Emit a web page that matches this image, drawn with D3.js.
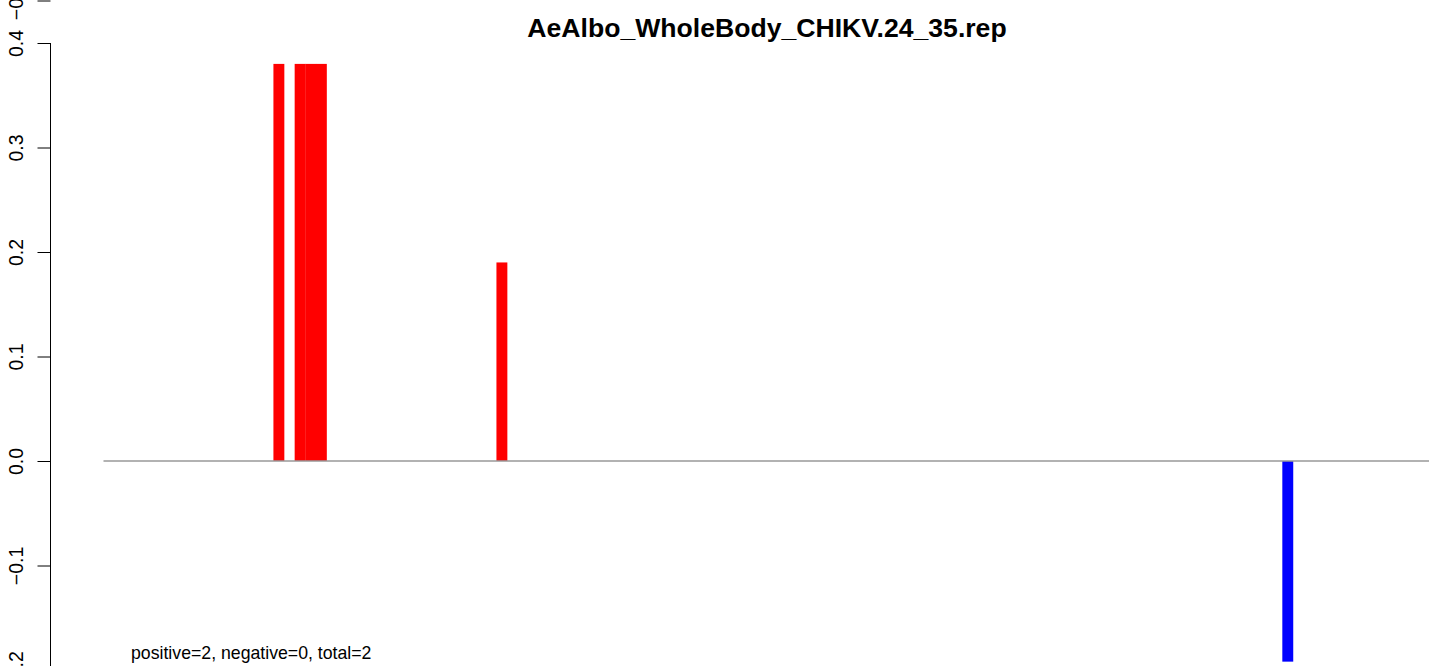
<!DOCTYPE html>
<html>
<head>
<meta charset="utf-8">
<script src="https://cdn.jsdelivr.net/npm/d3@7"></script>
<style>
  html, body { margin: 0; padding: 0; background: #fff; }
  svg { display: block; font-family: "Liberation Sans", Arial, Helvetica, sans-serif; }
</style>
</head>
<body>
<svg id="chart" width="1429" height="666"></svg>
<script>
// ---- data ----
const title = "AeAlbo_WholeBody_CHIKV.24_35.rep";
const nBars = 125;
const barIndex = [16, 18, 19, 20, 37, 111];
const barValue = [0.38, 0.38, 0.38, 0.38, 0.19, -0.192];
const yTicks = [-0.2, -0.1, 0.0, 0.1, 0.2, 0.3, 0.4];
const prevPanelTicks = [-0.2];
const summaryText = "positive=2, negative=0, total=2";

// ---- layout ----
const svg = d3.select("#chart");

const x = d3.scaleLinear().domain([0, nBars]).range([103.5, 1431]);
const y = d3.scaleLinear().domain([0, 0.4]).range([461, 43]);

// bars
const bars = barIndex.map((i, k) => ({ i, v: barValue[k] }));
svg.append("g").selectAll("rect").data(bars).join("rect")
  .attr("x", d => x(d.i))
  .attr("width", d => x(d.i + 1) - x(d.i) + 0.3)
  .attr("y", d => Math.min(y(d.v), y(0)))
  .attr("height", d => Math.abs(y(d.v) - y(0)))
  .attr("fill", d => d.v >= 0 ? "#ff0000" : "#0000ff");

// zero line
svg.append("line")
  .attr("x1", x(0)).attr("x2", x(nBars))
  .attr("y1", y(0)).attr("y2", y(0))
  .attr("stroke", "#999").attr("stroke-width", 1.5);

const fmt = d => d3.format(".1f")(d).replace("-", "\u2212");
const tickFont = 19.5;

// y axis
const axisX = 50.5;
const yAxis = d3.axisLeft(y).tickValues(yTicks).tickSize(13).tickSizeOuter(0);
const gy = svg.append("g").attr("transform", `translate(${axisX},0)`).call(yAxis);
gy.select(".domain").attr("stroke", "#000").attr("d", `M0,${y(0.4)}V${y(-0.2)}`);
gy.selectAll(".tick line").attr("stroke", "#000");
gy.selectAll(".tick text")
  .attr("font-size", tickFont).attr("fill", "#000")
  .attr("text-anchor", "middle")
  .attr("x", null).attr("dy", null)
  .attr("transform", "translate(-28,0) rotate(-90)")
  .text(fmt);

// fragment of previous panel's axis at the top edge
const yPrev = d3.scaleLinear().domain([-0.2, -0.1]).range([0.5, -104]);
const gp = svg.append("g").attr("transform", `translate(${axisX},0)`)
  .call(d3.axisLeft(yPrev).tickValues(prevPanelTicks).tickSize(13).tickSizeOuter(0));
gp.select(".domain").remove();
gp.selectAll(".tick line").attr("stroke", "#000");
gp.selectAll(".tick text")
  .attr("font-size", tickFont).attr("fill", "#000")
  .attr("text-anchor", "middle")
  .attr("x", null).attr("dy", null)
  .attr("transform", "translate(-28,0) rotate(-90)")
  .text(fmt);

// title
svg.append("text")
  .attr("x", 767).attr("y", 37)
  .attr("text-anchor", "middle")
  .attr("font-weight", "bold").attr("font-size", 26.6)
  .attr("fill", "#000")
  .text(title);

// summary
svg.append("text")
  .attr("x", 131).attr("y", 659)
  .attr("font-size", 17.7).attr("fill", "#000")
  .text(summaryText);
</script>
</body>
</html>
